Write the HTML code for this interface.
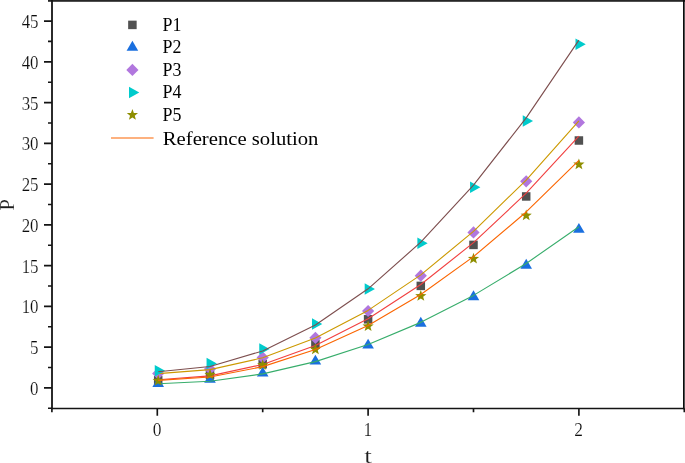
<!DOCTYPE html>
<html><head><meta charset="utf-8"><title>P vs t</title>
<style>html,body{margin:0;padding:0;background:#fff;overflow:hidden}svg{display:block}.tk{font-family:"Liberation Serif",serif;font-size:17.4px;fill:#0d0d0d;stroke:#fff;stroke-width:0.15px}.ax{font-family:"Liberation Serif",serif;font-size:20.5px;fill:#1c1c1c;stroke:#fff;stroke-width:0.15px}.lg{font-family:"Liberation Serif",serif;font-size:19.7px;fill:#000}</style></head><body>
<svg width="685" height="463" viewBox="0 0 685 463">
<rect width="685" height="463" fill="#fff"/>
<g>
<g><rect x="153.95" y="376.05" width="8.5" height="8.5" fill="#515151"/><rect x="205.75" y="370.55" width="8.5" height="8.5" fill="#515151"/><rect x="258.45" y="359.95" width="8.5" height="8.5" fill="#515151"/><rect x="311.15" y="340.05" width="8.5" height="8.5" fill="#515151"/><rect x="363.85" y="315.05" width="8.5" height="8.5" fill="#515151"/><rect x="416.55" y="281.65" width="8.5" height="8.5" fill="#515151"/><rect x="469.25" y="240.65" width="8.5" height="8.5" fill="#515151"/><rect x="521.95" y="192.2" width="8.5" height="8.5" fill="#515151"/><rect x="574.65" y="136.25" width="8.5" height="8.5" fill="#515151"/></g>
<polyline points="158.2,379.7 210,375.89 262.7,364.47 315.4,345.44 368.1,318.8 420.8,284.54 473.5,242.68 526.2,193.19 578.9,136.1" fill="none" stroke="#F14040" stroke-width="1.12" stroke-linejoin="round"/>
<g><path d="M158.2 377.1L164 387L152.4 387Z" fill="#1A6FDF"/><path d="M210 372.8L215.8 382.7L204.2 382.7Z" fill="#1A6FDF"/><path d="M262.7 366.7L268.5 376.6L256.9 376.6Z" fill="#1A6FDF"/><path d="M315.4 354.7L321.2 364.6L309.6 364.6Z" fill="#1A6FDF"/><path d="M368.1 338.7L373.9 348.6L362.3 348.6Z" fill="#1A6FDF"/><path d="M420.8 316.8L426.6 326.7L415 326.7Z" fill="#1A6FDF"/><path d="M473.5 290.3L479.3 300.2L467.7 300.2Z" fill="#1A6FDF"/><path d="M526.2 258.8L532 268.7L520.4 268.7Z" fill="#1A6FDF"/><path d="M578.9 222.9L584.7 232.8L573.1 232.8Z" fill="#1A6FDF"/></g>
<polyline points="158.2,383.7 210,381.25 262.7,373.89 315.4,361.62 368.1,344.45 420.8,322.37 473.5,295.39 526.2,263.5 578.9,226.7" fill="none" stroke="#37AD6B" stroke-width="1.12" stroke-linejoin="round"/>
<g><path d="M158.2 367.5L164.3 373.6L158.2 379.7L152.1 373.6Z" fill="#B177DE"/><path d="M210 362.9L216.1 369L210 375.1L203.9 369Z" fill="#B177DE"/><path d="M262.7 351.5L268.8 357.6L262.7 363.7L256.6 357.6Z" fill="#B177DE"/><path d="M315.4 331.7L321.5 337.8L315.4 343.9L309.3 337.8Z" fill="#B177DE"/><path d="M368.1 304.9L374.2 311L368.1 317.1L362 311Z" fill="#B177DE"/><path d="M420.8 269.6L426.9 275.7L420.8 281.8L414.7 275.7Z" fill="#B177DE"/><path d="M473.5 226.3L479.6 232.4L473.5 238.5L467.4 232.4Z" fill="#B177DE"/><path d="M526.2 175.2L532.3 181.3L526.2 187.4L520.1 181.3Z" fill="#B177DE"/><path d="M578.9 116.3L585 122.4L578.9 128.5L572.8 122.4Z" fill="#B177DE"/></g>
<polyline points="158.2,373.6 210,369.65 262.7,357.8 315.4,338.05 368.1,310.4 420.8,274.85 473.5,231.4 526.2,180.05 578.9,120.8" fill="none" stroke="#CC9900" stroke-width="1.12" stroke-linejoin="round"/>
<g><path d="M154.77 364.95L165.07 370.7L154.77 376.45Z" fill="#00CBCC"/><path d="M206.57 357.85L216.87 363.6L206.57 369.35Z" fill="#00CBCC"/><path d="M259.27 343.35L269.57 349.1L259.27 354.85Z" fill="#00CBCC"/><path d="M311.97 318.15L322.27 323.9L311.97 329.65Z" fill="#00CBCC"/><path d="M364.67 283.25L374.97 289L364.67 294.75Z" fill="#00CBCC"/><path d="M417.37 237.55L427.67 243.3L417.37 249.05Z" fill="#00CBCC"/><path d="M470.07 181.55L480.37 187.3L470.07 193.05Z" fill="#00CBCC"/><path d="M522.77 115.25L533.07 121L522.77 126.75Z" fill="#00CBCC"/><path d="M575.47 38.55L585.77 44.3L575.47 50.05Z" fill="#00CBCC"/></g>
<polyline points="158.2,371.7 210,366.52 262.7,350.97 315.4,325.07 368.1,288.8 420.8,242.17 473.5,185.17 526.2,117.82 578.9,40.1" fill="none" stroke="#7D4E4E" stroke-width="1.12" stroke-linejoin="round"/>
<g><path d="M158.2 374.8L159.66 378.7L163.81 378.88L160.56 381.47L161.67 385.47L158.2 383.18L154.73 385.47L155.84 381.47L152.59 378.88L156.74 378.7Z" fill="#8E8E00"/><path d="M210 368.9L211.46 372.8L215.61 372.98L212.36 375.57L213.47 379.57L210 377.28L206.53 379.57L207.64 375.57L204.39 372.98L208.54 372.8Z" fill="#8E8E00"/><path d="M262.7 359.2L264.16 363.1L268.31 363.28L265.06 365.87L266.17 369.87L262.7 367.58L259.23 369.87L260.34 365.87L257.09 363.28L261.24 363.1Z" fill="#8E8E00"/><path d="M315.4 343.5L316.86 347.4L321.01 347.58L317.76 350.17L318.87 354.17L315.4 351.88L311.93 354.17L313.04 350.17L309.79 347.58L313.94 347.4Z" fill="#8E8E00"/><path d="M368.1 320.4L369.56 324.3L373.71 324.48L370.46 327.07L371.57 331.07L368.1 328.78L364.63 331.07L365.74 327.07L362.49 324.48L366.64 324.3Z" fill="#8E8E00"/><path d="M420.8 290.1L422.26 294L426.41 294.18L423.16 296.77L424.27 300.77L420.8 298.48L417.33 300.77L418.44 296.77L415.19 294.18L419.34 294Z" fill="#8E8E00"/><path d="M473.5 252.8L474.96 256.7L479.11 256.88L475.86 259.47L476.97 263.47L473.5 261.18L470.03 263.47L471.14 259.47L467.89 256.88L472.04 256.7Z" fill="#8E8E00"/><path d="M526.2 209.6L527.66 213.5L531.81 213.68L528.56 216.27L529.67 220.27L526.2 217.98L522.73 220.27L523.84 216.27L520.59 213.68L524.74 213.5Z" fill="#8E8E00"/><path d="M578.9 158.5L580.36 162.4L584.51 162.58L581.26 165.17L582.37 169.17L578.9 166.88L575.43 169.17L576.54 165.17L573.29 162.58L577.44 162.4Z" fill="#8E8E00"/></g>
<polyline points="158.2,380.4 210,376.96 262.7,366.65 315.4,349.46 368.1,325.4 420.8,294.46 473.5,256.65 526.2,211.96 578.9,160.4" fill="none" stroke="#FB6501" stroke-width="1.12" stroke-linejoin="round"/>
</g>
<rect x="48" y="0" width="637" height="1.8" fill="#262626"/>
<rect x="683" y="0" width="1.7" height="409.25" fill="#0c0c0c"/>
<g stroke="#141414" stroke-width="1.65" fill="none" stroke-linecap="butt">
<path d="M52.0 0V409.25" stroke-width="1.8"/><path d="M51.1 408.45H684.5" stroke-width="1.65"/>
<path d="M44 387.9H52.0M44 347.14H52.0M44 306.38H52.0M44 265.62H52.0M44 224.86H52.0M44 184.1H52.0M44 143.34H52.0M44 102.58H52.0M44 61.82H52.0M44 21.06H52.0M48 408.28H52.0M48 367.52H52.0M48 326.76H52.0M48 286H52.0M48 245.24H52.0M48 204.48H52.0M48 163.72H52.0M48 122.96H52.0M48 82.2H52.0M48 41.44H52.0M157.3 408.45V415.8M368.1 408.45V415.8M578.9 408.45V415.8M51.9 408.45V412.2M262.7 408.45V412.2M473.5 408.45V412.2M684.3 408.45V412.2"/>
</g>
<g class="tk" text-anchor="end">
<text transform="translate(38.5 394.9) scale(0.97 1.06)">0</text>
<text transform="translate(38.5 354.14) scale(0.97 1.06)">5</text>
<text transform="translate(38.5 313.38) scale(0.97 1.06)">10</text>
<text transform="translate(38.5 272.62) scale(0.97 1.06)">15</text>
<text transform="translate(38.5 231.86) scale(0.97 1.06)">20</text>
<text transform="translate(38.5 191.1) scale(0.97 1.06)">25</text>
<text transform="translate(38.5 150.34) scale(0.97 1.06)">30</text>
<text transform="translate(38.5 109.58) scale(0.97 1.06)">35</text>
<text transform="translate(38.5 68.82) scale(0.97 1.06)">40</text>
<text transform="translate(38.5 28.06) scale(0.97 1.06)">45</text>
</g>
<g class="tk" text-anchor="middle">
<text transform="translate(157.1 436.1) scale(1 1.06)">0</text>
<text transform="translate(367.9 436.1) scale(1 1.06)">1</text>
<text transform="translate(578.7 436.1) scale(1 1.06)">2</text>
</g>
<text class="ax" text-anchor="middle" transform="translate(14.4 204.8) rotate(-90)">P</text>
<text class="ax" text-anchor="middle" transform="translate(368.1 462.6) scale(1.32 1.06)">t</text>
<g>
<rect x="128.15" y="20.65" width="8.5" height="8.5" fill="#515151"/>
<path d="M132.4 40.8L138.2 50.7L126.6 50.7Z" fill="#1A6FDF"/>
<path d="M132.4 63.8L138.5 69.9L132.4 76L126.3 69.9Z" fill="#B177DE"/>
<path d="M128.97 86.65L139.27 92.4L128.97 98.15Z" fill="#00CBCC"/>
<path d="M132.4 109L133.86 112.9L138.01 113.08L134.76 115.67L135.87 119.67L132.4 117.38L128.93 119.67L130.04 115.67L126.79 113.08L130.94 112.9Z" fill="#8E8E00"/>
<path d="M111 137.95H153.6" stroke="#FB6501" stroke-width="1.12" fill="none"/>
</g>
<g class="lg">
<text x="162.6" y="30.9" textLength="18.9" lengthAdjust="spacingAndGlyphs">P1</text>
<text x="162.6" y="53.4" textLength="18.9" lengthAdjust="spacingAndGlyphs">P2</text>
<text x="162.6" y="75.9" textLength="18.9" lengthAdjust="spacingAndGlyphs">P3</text>
<text x="162.6" y="98.4" textLength="18.9" lengthAdjust="spacingAndGlyphs">P4</text>
<text x="162.6" y="120.9" textLength="18.9" lengthAdjust="spacingAndGlyphs">P5</text>
<text x="162.8" y="144.5" textLength="155.6" lengthAdjust="spacingAndGlyphs">Reference solution</text>
</g>
</svg></body></html>
